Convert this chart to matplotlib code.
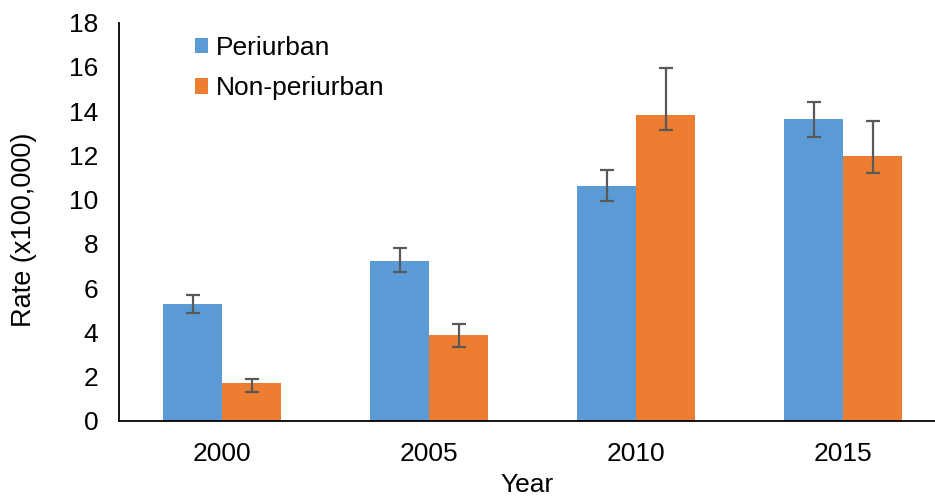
import numpy as np
import matplotlib
matplotlib.use("Agg")
import matplotlib.pyplot as plt

# data
years = ["2000", "2005", "2010", "2015"]
peri = [5.28, 7.22, 10.63, 13.62]
peri_hi = [5.67, 7.80, 11.34, 14.39]
peri_lo = [4.89, 6.72, 9.92, 12.83]
nonperi = [1.70, 3.88, 13.82, 11.97]
nonperi_hi = [1.91, 4.37, 15.95, 13.55]
nonperi_lo = [1.31, 3.32, 13.14, 11.20]

blue = "#5B9BD5"
orange = "#ED7D31"
err_col = "#595959"

plt.rcParams["font.family"] = ["Liberation Sans", "DejaVu Sans"]
fs = 19

fig = plt.figure(figsize=(9.35, 4.99), dpi=100)
ax = fig.add_axes([119 / 935, 78 / 499, 816 / 935, 398.5 / 499])

x = np.arange(len(years))
w = 0.285
peri_err = [np.array(peri) - np.array(peri_lo), np.array(peri_hi) - np.array(peri)]
non_err = [np.array(nonperi) - np.array(nonperi_lo), np.array(nonperi_hi) - np.array(nonperi)]

ax.bar(x - w / 2, peri, w, color=blue, label="Periurban",
       yerr=peri_err, error_kw=dict(ecolor=err_col, elinewidth=1.6, capsize=5, capthick=1.6))
ax.bar(x + w / 2, nonperi, w, color=orange, label="Non-periurban",
       yerr=non_err, error_kw=dict(ecolor=err_col, elinewidth=1.6, capsize=5, capthick=1.6))

ax.set_ylim(0, 18)
ax.set_yticks(range(0, 19, 2))
ax.set_xlim(-0.5, 3.5 - 11.5 / 207)
ax.set_xticks(x)
ax.set_xticklabels(years)
ax.tick_params(axis="both", length=0, labelsize=fs)
ax.tick_params(axis="y", pad=15)
ax.tick_params(axis="x", pad=15)
for s in ["top", "right"]:
    ax.spines[s].set_visible(False)
for s in ["left", "bottom"]:
    ax.spines[s].set_linewidth(1.3)
    ax.spines[s].set_color("black")

fig.text(24 / 935, 1 - 230 / 499, "Rate (x100,000)", rotation=90,
         ha="center", va="center", fontsize=19.5)
fig.text(527 / 935, 1.5 / 499, "Year", ha="center", va="bottom", fontsize=fs)

ax.legend(loc="upper left", bbox_to_anchor=(195 / 935, 1 - 36 / 499),
          bbox_transform=fig.transFigure, frameon=False, fontsize=fs,
          handlelength=0.5, handleheight=0.5, handletextpad=0.3,
          labelspacing=0.62, borderpad=0, borderaxespad=0)

fig.savefig("out.png", dpi=100)
